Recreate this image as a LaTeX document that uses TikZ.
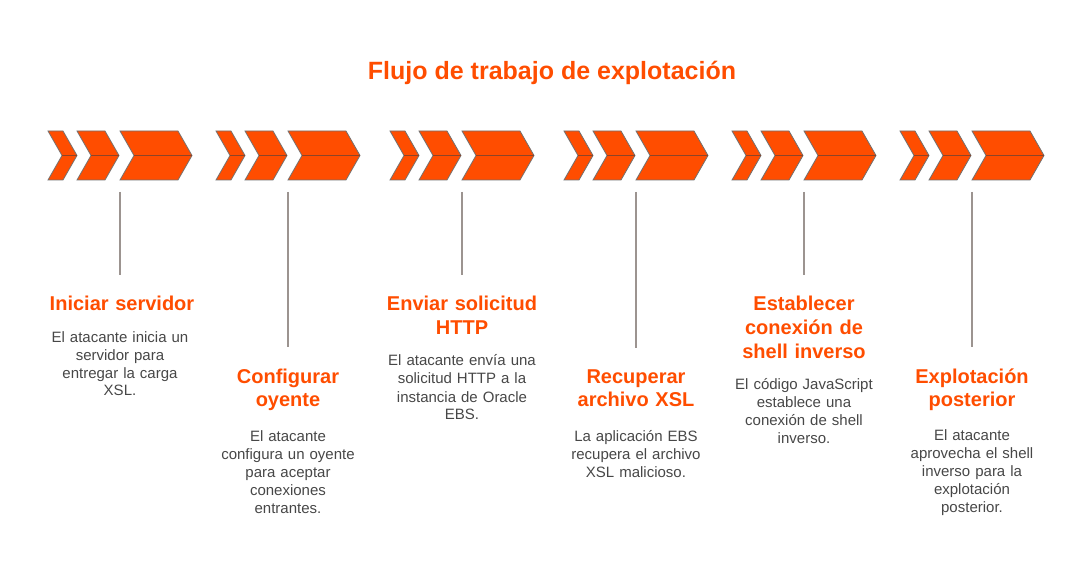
\documentclass[tikz,border=0pt]{standalone}
\usepackage{fontspec}
\setmainfont{Liberation Sans}
\usepackage{xcolor}
\usepackage{tikz}

\definecolor{naranja}{HTML}{FF4D00}
\definecolor{borde}{HTML}{707070}
\definecolor{medio}{HTML}{8E4428}
\definecolor{linea}{HTML}{9C9490}
\definecolor{gris}{HTML}{474747}

\begin{document}
\begin{tikzpicture}[x=1pt,y=-1pt]
\tikzstyle{encabezado} = [font=\bfseries\fontsize{25}{30}\selectfont, text=naranja, anchor=base, inner sep=0pt]
\tikzstyle{titulo} = [font=\bfseries\fontsize{20}{24}\selectfont, text=naranja, text width=180pt, align=center, anchor=base, inner sep=0pt]
\tikzstyle{texto} = [font=\fontsize{15}{18}\selectfont, text=gris, text width=180pt, align=center, anchor=base, inner sep=0pt]
\tikzstyle{flecha} = [fill=naranja, draw=borde, line width=0.8pt, line join=miter]
\tikzstyle{eje} = [draw=linea, line width=1.5pt]
%
\useasboundingbox (0,0) rectangle (1080,588);

	\node[encabezado] (flujo) at (552,80) {Flujo de trabajo de explotación};

	% grupos de flechas
	\foreach \g [count=\i] in {48,216,390,564,732,900}{
		\foreach \a/\w in {0/15,29/28,72/58}{
			\filldraw[flecha] ({\g+\a},131) -- ({\g+\a+\w},131) -- ({\g+\a+\w+14},155.5)
				-- ({\g+\a+\w},180) -- ({\g+\a},180) -- ({\g+\a+14},155.5) -- cycle;
			\draw[draw=medio, line width=1.4pt] ({\g+\a+14},155.5) -- ({\g+\a+\w+14},155.5);
		}
		\coordinate (s\i) at ({\g+72},192);
	}

	\node[titulo] (t1) at (122,311) {Iniciar servidor};
	\node[texto] (d1) at (120,342) {El atacante inicia un\\servidor para\\entregar la carga\\XSL.};

	\node[titulo] (t2) at (288,383) {Configurar\\oyente};
	\node[texto] (d2) at (288,441) {El atacante\\configura un oyente\\para aceptar\\conexiones\\entrantes.};

	\node[titulo] (t3) at (462,311) {Enviar solicitud\\HTTP};
	\node[texto] (d3) at (462,366) {El atacante envía una\\solicitud HTTP a la\\instancia de Oracle\\EBS.};

	\node[titulo] (t4) at (636,383) {Recuperar\\archivo XSL};
	\node[texto] (d4) at (636,441) {La aplicación EBS\\recupera el archivo\\XSL malicioso.};

	\node[titulo] (t5) at (804,311) {Establecer\\conexión de\\shell inverso};
	\node[texto] (d5) at (804,389) {El código JavaScript\\establece una\\conexión de shell\\inverso.};

	\node[titulo] (t6) at (972,383) {Explotación\\posterior};
	\node[texto] (d6) at (972,440) {El atacante\\aprovecha el shell\\inverso para la\\explotación\\posterior.};

	% lineas verticales
	\foreach \i in {1,...,6}
		\draw[eje] (s\i) -- ([yshift=21pt]s\i |- t\i.north);
\end{tikzpicture}
\end{document}
